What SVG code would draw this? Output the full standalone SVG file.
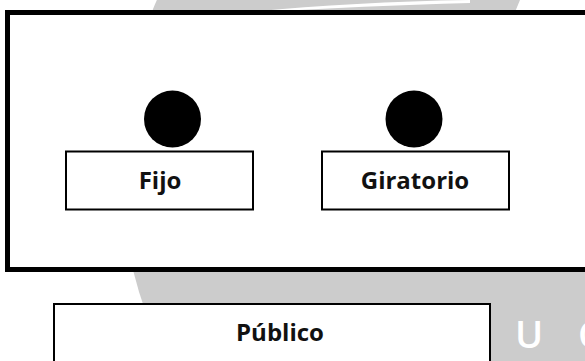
<svg xmlns="http://www.w3.org/2000/svg" width="585" height="361" viewBox="0 0 585 361">
<style>
.box{fill:#fff;stroke:#000;stroke-width:2}
.dot{fill:#000}
.lbl{font-family:"Open Sans","Noto Sans","Liberation Sans",sans-serif;font-weight:700;font-size:24px;fill:#111;text-anchor:middle}
.wm{font-family:"Open Sans","Liberation Sans",sans-serif;font-weight:600;font-size:38px;fill:#fff;text-anchor:middle}
</style>
<rect width="585" height="361" fill="#fff"/>
<g id="watermark">
<circle cx="542" cy="170" r="421" fill="#cccccc"/>
<path d="M520 0 L585 0 L585 12 L515 12 Z" fill="#fff"/>
<path d="M250 12 Q350 2 470 0 L470 3 Q360 6 265 12 Z" fill="#fff"/>
<text class="wm" x="529" y="348">U</text>
<text class="wm" x="590" y="348">C</text>
</g>
<g id="frame">
<rect x="7.5" y="12.5" width="600" height="257" fill="#fff" stroke="#000" stroke-width="5"/>
</g>
<g id="fijo">
<circle class="dot" cx="172.5" cy="119" r="28.5"/>
<rect class="box" x="66" y="151.5" width="187" height="58"/>
<text class="lbl" x="160" y="189">Fijo</text>
</g>
<g id="giratorio">
<circle class="dot" cx="414" cy="119" r="28.5"/>
<rect class="box" x="322" y="151.5" width="187" height="58"/>
<text class="lbl" x="415" y="189">Giratorio</text>
</g>
<g id="publico">
<rect class="box" x="54" y="304" width="436" height="70"/>
<text class="lbl" x="280" y="341">Público</text>
</g>
<g id="connectors"></g>
</svg>
